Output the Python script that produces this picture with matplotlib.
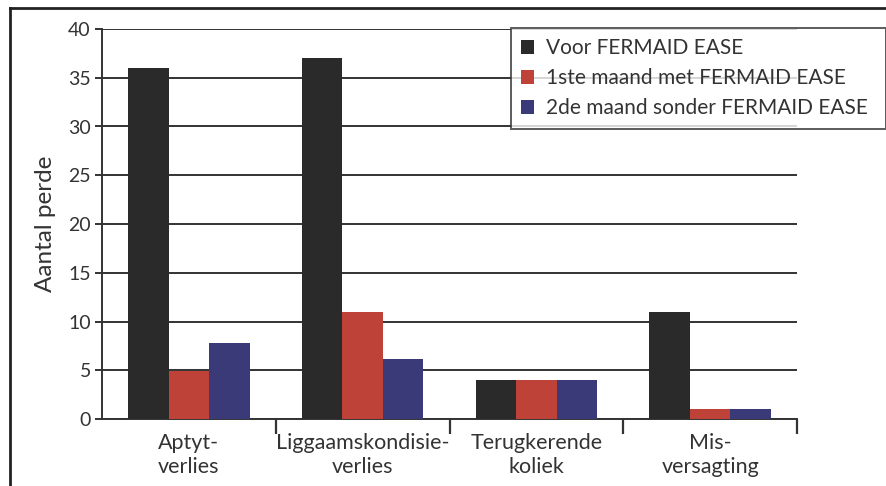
import numpy as np
import matplotlib.pyplot as plt
from matplotlib.lines import Line2D
from matplotlib.patches import Patch

plt.rcParams['font.family'] = ['Lato', 'DejaVu Sans']

categories = ['Aptyt-\nverlies', 'Liggaamskondisie-\nverlies', 'Terugkerende\nkoliek', 'Mis-\nversagting']
voor = [36, 37, 4, 11]
maand1 = [4.9, 11, 4, 1]
maand2 = [7.8, 6.2, 4, 1]
series_names = ['Voor FERMAID EASE', '1ste maand met FERMAID EASE', '2de maand sonder FERMAID EASE']
colors = ['#2a2a2a', '#bf4238', '#3a3a78']
yticks = [0, 5, 10, 15, 20, 25, 30, 35, 40]

fig = plt.figure(figsize=(8.86, 4.86), dpi=100)
ax = fig.add_axes([102/886, 1-419/486, (797-102)/886, (419-29)/486])

x = np.arange(len(categories))
w = 0.233
for i, (vals, c) in enumerate(zip([voor, maand1, maand2], colors)):
    ax.bar(x + (i-1)*w, vals, w, color=c, zorder=3, linewidth=0)

ax.set_xlim(-0.5, len(categories)-0.5)
ax.set_ylim(0, 40)
ax.set_yticks(yticks)
ax.yaxis.grid(True, color='#333333', linewidth=1.4, zorder=0)
ax.tick_params(axis='y', length=5, width=1.4, color='#333333', labelsize=14, labelcolor='#333333', pad=3)
ax.set_xticks(x)
ax.set_xticklabels(categories, fontsize=15.5, color='#333333', linespacing=1.25)
ax.tick_params(axis='x', which='major', length=0, pad=10)
ax.set_xticks(list(x[:-1] + 0.5) + [len(categories)-0.5], minor=True)
ax.tick_params(axis='x', which='minor', length=11, width=1.6, color='#333333', direction='out')
for s in ['top', 'right']:
    ax.spines[s].set_visible(False)
for s in ['left', 'bottom']:
    ax.spines[s].set_color('#333333')
    ax.spines[s].set_linewidth(1.4)
ax.set_ylabel('Aantal perde', fontsize=17.5, color='#333333', labelpad=9)

handles = [Patch(facecolor=c, edgecolor='none') for c in colors]
leg = fig.legend(handles, series_names, loc='upper left',
                 bbox_to_anchor=(511/886, 1-28/486, (886-511)/886, 0), mode='expand',
                 fontsize=15, frameon=True, fancybox=False, handlelength=0.6, handleheight=0.6,
                 handletextpad=0.6, labelspacing=0.48, borderpad=0.5, borderaxespad=0)
leg.get_frame().set_edgecolor('#333333')
leg.get_frame().set_linewidth(1.4)
for t in leg.get_texts():
    t.set_color('#333333')

# outer frame
fig.add_artist(Line2D([10/886, 10/886], [0, 1-8/486], transform=fig.transFigure, color='#222222', lw=2))
fig.add_artist(Line2D([10/886, 1], [1-8/486, 1-8/486], transform=fig.transFigure, color='#222222', lw=2))

fig.savefig('out.png', dpi=100)
